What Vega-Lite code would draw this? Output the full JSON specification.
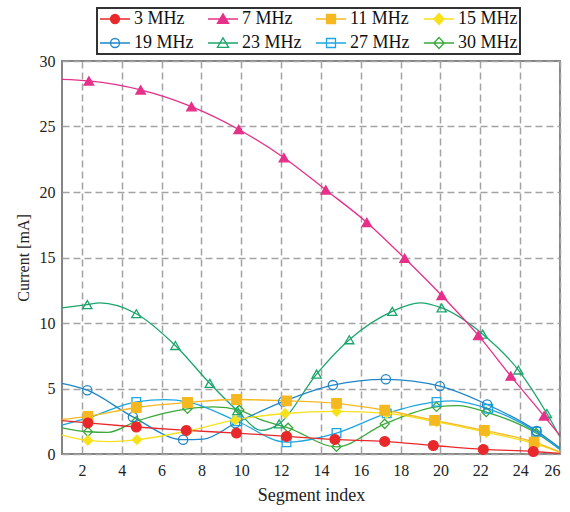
{
  "$schema": "https://vega.github.io/schema/vega-lite/v6.json",
  "width": 498,
  "height": 393,
  "autosize": {"type": "none"},
  "padding": {"left": 62, "top": 61, "right": 10, "bottom": 58},
  "background": "white",
  "config": {
    "font": "Liberation Serif",
    "view": {"stroke": "#858585", "strokeWidth": 2},
    "axis": {
      "domain": false,
      "ticks": false,
      "grid": true,
      "gridColor": "#a3a3a3",
      "gridDash": [7, 4],
      "gridWidth": 1.5,
      "labelFont": "Liberation Serif",
      "labelFontSize": 16,
      "labelColor": "#222",
      "titleFont": "Liberation Serif",
      "titleFontSize": 16,
      "titleFontWeight": "normal",
      "titleColor": "#222"
    }
  },
  "data": {
    "values": [
      {"s": "30 MHz", "x": 1, "y": 2.0, "m": 0},
      {"s": "30 MHz", "x": 2.3, "y": 1.7, "m": 1},
      {"s": "30 MHz", "x": 3.3, "y": 1.65, "m": 0},
      {"s": "30 MHz", "x": 4.73, "y": 2.5, "m": 1},
      {"s": "30 MHz", "x": 7.3, "y": 3.45, "m": 1},
      {"s": "30 MHz", "x": 8.6, "y": 3.6, "m": 0},
      {"s": "30 MHz", "x": 9.9, "y": 3.35, "m": 1},
      {"s": "30 MHz", "x": 11.0, "y": 2.6, "m": 0},
      {"s": "30 MHz", "x": 12.35, "y": 2.0, "m": 1},
      {"s": "30 MHz", "x": 14.78, "y": 0.55, "m": 1},
      {"s": "30 MHz", "x": 17.2, "y": 2.3, "m": 1},
      {"s": "30 MHz", "x": 19.8, "y": 3.6, "m": 1},
      {"s": "30 MHz", "x": 20.9, "y": 3.7, "m": 0},
      {"s": "30 MHz", "x": 22.3, "y": 3.2, "m": 1},
      {"s": "30 MHz", "x": 24.8, "y": 1.6, "m": 1},
      {"s": "30 MHz", "x": 26, "y": 0.35, "m": 0},

      {"s": "27 MHz", "x": 1, "y": 2.2, "m": 0},
      {"s": "27 MHz", "x": 2.3, "y": 2.75, "m": 1},
      {"s": "27 MHz", "x": 4.73, "y": 3.98, "m": 1},
      {"s": "27 MHz", "x": 6.2, "y": 4.15, "m": 0},
      {"s": "27 MHz", "x": 7.3, "y": 3.98, "m": 1},
      {"s": "27 MHz", "x": 9.8, "y": 2.5, "m": 1},
      {"s": "27 MHz", "x": 12.27, "y": 0.9, "m": 1},
      {"s": "27 MHz", "x": 14.78, "y": 1.6, "m": 1},
      {"s": "27 MHz", "x": 17.3, "y": 3.1, "m": 1},
      {"s": "27 MHz", "x": 19.8, "y": 3.98, "m": 1},
      {"s": "27 MHz", "x": 20.6, "y": 4.05, "m": 0},
      {"s": "27 MHz", "x": 22.4, "y": 3.45, "m": 1},
      {"s": "27 MHz", "x": 24.8, "y": 1.7, "m": 1},
      {"s": "27 MHz", "x": 26, "y": 0.35, "m": 0},

      {"s": "23 MHz", "x": 1, "y": 11.15, "m": 0},
      {"s": "23 MHz", "x": 2.27, "y": 11.4, "m": 1},
      {"s": "23 MHz", "x": 2.9, "y": 11.53, "m": 0},
      {"s": "23 MHz", "x": 4.73, "y": 10.71, "m": 1},
      {"s": "23 MHz", "x": 6.69, "y": 8.28, "m": 1},
      {"s": "23 MHz", "x": 8.42, "y": 5.39, "m": 1},
      {"s": "23 MHz", "x": 9.8, "y": 3.3, "m": 1},
      {"s": "23 MHz", "x": 11.0, "y": 1.8, "m": 0},
      {"s": "23 MHz", "x": 11.9, "y": 2.3, "m": 1},
      {"s": "23 MHz", "x": 13.78, "y": 6.1, "m": 1},
      {"s": "23 MHz", "x": 15.42, "y": 8.72, "m": 1},
      {"s": "23 MHz", "x": 17.58, "y": 10.89, "m": 1},
      {"s": "23 MHz", "x": 18.97, "y": 11.54, "m": 0},
      {"s": "23 MHz", "x": 20.06, "y": 11.15, "m": 1},
      {"s": "23 MHz", "x": 22.12, "y": 9.15, "m": 1},
      {"s": "23 MHz", "x": 23.91, "y": 6.41, "m": 1},
      {"s": "23 MHz", "x": 25.34, "y": 3.09, "m": 1},
      {"s": "23 MHz", "x": 26, "y": 1.3, "m": 0},

      {"s": "19 MHz", "x": 1, "y": 5.4, "m": 0},
      {"s": "19 MHz", "x": 2.27, "y": 4.87, "m": 1},
      {"s": "19 MHz", "x": 4.56, "y": 2.83, "m": 1},
      {"s": "19 MHz", "x": 7.08, "y": 1.09, "m": 1},
      {"s": "19 MHz", "x": 8.1, "y": 1.14, "m": 0},
      {"s": "19 MHz", "x": 9.7, "y": 2.35, "m": 1},
      {"s": "19 MHz", "x": 12.1, "y": 4.0, "m": 1},
      {"s": "19 MHz", "x": 14.6, "y": 5.26, "m": 1},
      {"s": "19 MHz", "x": 17.26, "y": 5.7, "m": 1},
      {"s": "19 MHz", "x": 19.97, "y": 5.18, "m": 1},
      {"s": "19 MHz", "x": 22.34, "y": 3.78, "m": 1},
      {"s": "19 MHz", "x": 24.83, "y": 1.75, "m": 1},
      {"s": "19 MHz", "x": 26, "y": 0.45, "m": 0},

      {"s": "15 MHz", "x": 1, "y": 1.45, "m": 0},
      {"s": "15 MHz", "x": 2.3, "y": 1.04, "m": 1},
      {"s": "15 MHz", "x": 3.5, "y": 0.95, "m": 0},
      {"s": "15 MHz", "x": 4.76, "y": 1.09, "m": 1},
      {"s": "15 MHz", "x": 7.3, "y": 1.75, "m": 1},
      {"s": "15 MHz", "x": 9.7, "y": 2.6, "m": 1},
      {"s": "15 MHz", "x": 12.2, "y": 3.09, "m": 1},
      {"s": "15 MHz", "x": 14.78, "y": 3.25, "m": 1},
      {"s": "15 MHz", "x": 17.3, "y": 3.1, "m": 1},
      {"s": "15 MHz", "x": 19.8, "y": 2.45, "m": 1},
      {"s": "15 MHz", "x": 22.3, "y": 1.65, "m": 1},
      {"s": "15 MHz", "x": 24.8, "y": 0.75, "m": 1},
      {"s": "15 MHz", "x": 26, "y": 0.12, "m": 0},

      {"s": "11 MHz", "x": 1, "y": 2.65, "m": 0},
      {"s": "11 MHz", "x": 2.3, "y": 2.88, "m": 1},
      {"s": "11 MHz", "x": 4.73, "y": 3.55, "m": 1},
      {"s": "11 MHz", "x": 7.3, "y": 3.93, "m": 1},
      {"s": "11 MHz", "x": 9.76, "y": 4.16, "m": 1},
      {"s": "11 MHz", "x": 12.27, "y": 4.06, "m": 1},
      {"s": "11 MHz", "x": 14.78, "y": 3.86, "m": 1},
      {"s": "11 MHz", "x": 17.2, "y": 3.34, "m": 1},
      {"s": "11 MHz", "x": 19.7, "y": 2.57, "m": 1},
      {"s": "11 MHz", "x": 22.2, "y": 1.8, "m": 1},
      {"s": "11 MHz", "x": 24.7, "y": 0.9, "m": 1},
      {"s": "11 MHz", "x": 26, "y": 0.15, "m": 0},

      {"s": "7 MHz", "x": 1, "y": 28.6, "m": 0},
      {"s": "7 MHz", "x": 2.35, "y": 28.48, "m": 1},
      {"s": "7 MHz", "x": 4.95, "y": 27.79, "m": 1},
      {"s": "7 MHz", "x": 7.5, "y": 26.51, "m": 1},
      {"s": "7 MHz", "x": 9.87, "y": 24.77, "m": 1},
      {"s": "7 MHz", "x": 12.14, "y": 22.62, "m": 1},
      {"s": "7 MHz", "x": 14.24, "y": 20.16, "m": 1},
      {"s": "7 MHz", "x": 16.3, "y": 17.68, "m": 1},
      {"s": "7 MHz", "x": 18.2, "y": 14.94, "m": 1},
      {"s": "7 MHz", "x": 20.06, "y": 12.1, "m": 1},
      {"s": "7 MHz", "x": 21.9, "y": 9.05, "m": 1},
      {"s": "7 MHz", "x": 23.53, "y": 5.95, "m": 1},
      {"s": "7 MHz", "x": 25.2, "y": 2.9, "m": 1},
      {"s": "7 MHz", "x": 26, "y": 1.4, "m": 0},

      {"s": "3 MHz", "x": 1, "y": 2.55, "m": 0},
      {"s": "3 MHz", "x": 2.3, "y": 2.37, "m": 1},
      {"s": "3 MHz", "x": 4.73, "y": 2.06, "m": 1},
      {"s": "3 MHz", "x": 7.24, "y": 1.8, "m": 1},
      {"s": "3 MHz", "x": 9.76, "y": 1.6, "m": 1},
      {"s": "3 MHz", "x": 12.27, "y": 1.34, "m": 1},
      {"s": "3 MHz", "x": 14.7, "y": 1.11, "m": 1},
      {"s": "3 MHz", "x": 17.2, "y": 0.96, "m": 1},
      {"s": "3 MHz", "x": 19.64, "y": 0.65, "m": 1},
      {"s": "3 MHz", "x": 22.15, "y": 0.35, "m": 1},
      {"s": "3 MHz", "x": 24.66, "y": 0.19, "m": 1},
      {"s": "3 MHz", "x": 26, "y": 0.05, "m": 0}
    ]
  },
  "encoding": {
    "x": {
      "field": "x",
      "type": "quantitative",
      "scale": {"domain": [1, 26], "nice": false, "zero": false},
      "axis": {
        "title": "Segment index",
        "titleFontSize": 18,
        "values": [2, 4, 6, 8, 10, 12, 14, 16, 18, 20, 22, 24, 26],
        "labelPadding": 8,
        "titlePadding": 8
      }
    },
    "y": {
      "field": "y",
      "type": "quantitative",
      "scale": {"domain": [0, 30], "nice": false},
      "axis": {
        "title": "Current [mA]",
        "values": [0, 5, 10, 15, 20, 25, 30],
        "labelPadding": 7,
        "titlePadding": 8
      }
    },
    "stroke": {
      "field": "s",
      "type": "nominal",
      "scale": {
        "domain": ["3 MHz", "7 MHz", "11 MHz", "15 MHz", "19 MHz", "23 MHz", "27 MHz", "30 MHz"],
        "range": ["#e8282b", "#e6308a", "#f5b820", "#f7e11b", "#1f86c8", "#1aa56c", "#1ba6e0", "#3aa83a"]
      },
      "legend": {
        "orient": "none",
        "legendX": 35,
        "legendY": -53,
        "direction": "horizontal",
        "columns": 4,
        "title": null,
        "symbolSize": 256,
        "symbolStrokeWidth": 1.3,
        "labelFont": "Liberation Serif",
        "labelFontSize": 18,
        "labelColor": "#111",
        "labelOffset": 17,
        "padding": 2,
        "columnPadding": 11,
        "rowPadding": 6,
        "strokeColor": "#333",
        "encode": {
          "legend": {"update": {"strokeWidth": {"value": 2}}},
          "symbols": {
            "update": {
              "shape": {"signal": "indexof(['3 MHz','19 MHz'], datum.value) >= 0 ? 'M-1,0L2.75,0M1.435,0A0.56,0.56,0,1,1,0.315,0A0.56,0.56,0,1,1,1.435,0Z' : indexof(['7 MHz','23 MHz'], datum.value) >= 0 ? 'M-1,0L2.75,0M0.875,-0.65L1.575,0.55L0.175,0.55Z' : indexof(['11 MHz','27 MHz'], datum.value) >= 0 ? 'M-1,0L2.75,0M0.315,-0.56L1.435,-0.56L1.435,0.56L0.315,0.56Z' : 'M-1,0L2.75,0M0.875,-0.68L1.525,0L0.875,0.68L0.225,0Z'"},
              "stroke": {"scale": "stroke", "field": "value"},
              "fill": {"signal": "indexof(['3 MHz','7 MHz','11 MHz','15 MHz'], datum.value) >= 0 ? scale('stroke', datum.value) : 'white'"},
              "fillOpacity": {"signal": "indexof(['3 MHz','7 MHz','11 MHz','15 MHz'], datum.value) >= 0 ? 1 : 0"},
              "strokeWidth": {"value": 1.3},
              "opacity": {"value": 1}
            }
          }
        }
      }
    }
  },
  "layer": [
    {
      "mark": {"type": "line", "interpolate": "monotone", "strokeWidth": 1.3},
      "encoding": {"detail": {"field": "s"}}
    },
    {
      "transform": [{"filter": "datum.m == 1 && datum.s == '30 MHz'"}],
      "mark": {"type": "point", "shape": "diamond", "size": 85, "strokeWidth": 1.3, "opacity": 1, "fill": "transparent"}
    },
    {
      "transform": [{"filter": "datum.m == 1 && datum.s == '27 MHz'"}],
      "mark": {"type": "point", "shape": "square", "size": 75, "strokeWidth": 1.3, "opacity": 1, "fill": "transparent"}
    },
    {
      "transform": [{"filter": "datum.m == 1 && datum.s == '23 MHz'"}],
      "mark": {"type": "point", "shape": "triangle-up", "size": 85, "strokeWidth": 1.3, "opacity": 1, "fill": "transparent"}
    },
    {
      "transform": [{"filter": "datum.m == 1 && datum.s == '19 MHz'"}],
      "mark": {"type": "point", "shape": "circle", "size": 85, "strokeWidth": 1.3, "opacity": 1, "fill": "transparent"}
    },
    {
      "transform": [{"filter": "datum.m == 1 && datum.s == '15 MHz'"}],
      "mark": {"type": "point", "shape": "diamond", "size": 85, "strokeWidth": 1.3, "opacity": 1, "filled": true},
      "encoding": {"fill": {"field": "s", "type": "nominal", "scale": {"domain": ["3 MHz", "7 MHz", "11 MHz", "15 MHz", "19 MHz", "23 MHz", "27 MHz", "30 MHz"], "range": ["#e8282b", "#e6308a", "#f5b820", "#f7e11b", "#1f86c8", "#1aa56c", "#1ba6e0", "#3aa83a"]}, "legend": null}}
    },
    {
      "transform": [{"filter": "datum.m == 1 && datum.s == '11 MHz'"}],
      "mark": {"type": "point", "shape": "square", "size": 90, "strokeWidth": 1.3, "opacity": 1, "filled": true},
      "encoding": {"fill": {"field": "s", "type": "nominal", "legend": null}}
    },
    {
      "transform": [{"filter": "datum.m == 1 && datum.s == '7 MHz'"}],
      "mark": {"type": "point", "shape": "triangle-up", "size": 90, "strokeWidth": 1.3, "opacity": 1, "filled": true},
      "encoding": {"fill": {"field": "s", "type": "nominal", "legend": null}}
    },
    {
      "transform": [{"filter": "datum.m == 1 && datum.s == '3 MHz'"}],
      "mark": {"type": "point", "shape": "circle", "size": 95, "strokeWidth": 1.3, "opacity": 1, "filled": true},
      "encoding": {"fill": {"field": "s", "type": "nominal", "legend": null}}
    }
  ]
}
